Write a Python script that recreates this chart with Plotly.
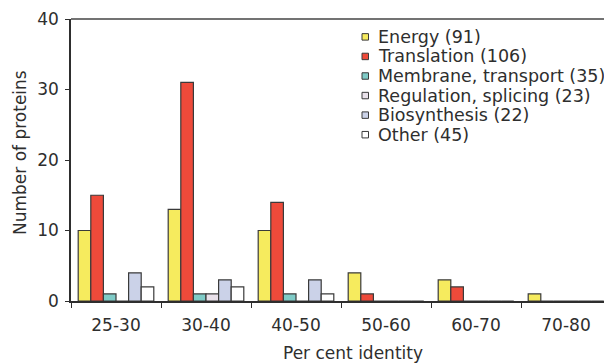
import plotly.graph_objects as go

categories = ["25-30", "30-40", "40-50", "50-60", "60-70", "70-80"]
series_names = ["Energy (91)", "Translation (106)", "Membrane, transport (35)",
                "Regulation, splicing (23)", "Biosynthesis (22)", "Other (45)"]
energy = [10, 13, 10, 4, 3, 1]
translation = [15, 31, 14, 1, 2, 0]
membrane = [1, 1, 1, 0, 0, 0]
regulation = [0, 1, 0, 0, 0, 0]
biosynthesis = [4, 3, 3, 0, 0, 0]
other = [2, 2, 1, 0, 0, 0]
y_ticks = [0, 10, 20, 30, 40]
x_title = "Per cent identity"
y_title = "Number of proteins"

series_values = [energy, translation, membrane, regulation, biosynthesis, other]
colors = ["#F6EB5E", "#EE4A3A", "#7FCBC7", "#E9E1EA", "#CBD2E8", "#FFFFFF"]
edge = "#3A3A3A"
font_family = "DejaVu Sans, Verdana, sans-serif"
txt = "#2E2E2E"

# page has an 8px body margin, so the figure is 604x355
W, H = 604, 355
ML, MR, MT, MB = 63, 1, 9, 62
plot_w = W - ML - MR
plot_h = H - MT - MB

fig = go.Figure()
for name, vals, col in zip(series_names, series_values, colors):
    fig.add_trace(go.Bar(
        x=categories, y=vals, name=name, showlegend=False,
        marker=dict(color=col, line=dict(color=edge, width=1.2)),
    ))

# legend drawn as a compact key (tight row spacing like the original)
key_left_px = 291      # px from plot left edge to key square
key_top_px = 18        # px from plot top to first row centre
row_px = 19.7
sq_px = 6.5
annotations = []
shapes = []
for i, (name, col) in enumerate(zip(series_names, colors)):
    yc = 1 - (key_top_px + i * row_px) / plot_h
    x0 = key_left_px / plot_w
    shapes.append(dict(
        type="rect", xref="paper", yref="paper",
        x0=x0, x1=x0 + sq_px / plot_w,
        y0=yc - sq_px / 2 / plot_h, y1=yc + sq_px / 2 / plot_h,
        fillcolor=col, line=dict(color=edge, width=1)))
    annotations.append(dict(
        text=name, xref="paper", yref="paper",
        x=(key_left_px + 14) / plot_w, y=yc, xanchor="left", yanchor="middle",
        showarrow=False, font=dict(size=17.5, color=txt)))

# axis titles (slightly off-centre in the original)
annotations.append(dict(
    text=x_title, xref="paper", yref="paper",
    x=(281.5 / plot_w), y=1 - (336 / plot_h),
    xanchor="center", yanchor="middle", showarrow=False,
    font=dict(size=17, color=txt)))
annotations.append(dict(
    text=y_title, xref="paper", yref="paper", textangle=-90,
    x=-51.5 / plot_w, y=1 - (134.5 / plot_h),
    xanchor="center", yanchor="middle", showarrow=False,
    font=dict(size=17, color=txt)))

shapes += [
    dict(type="line", xref="paper", yref="paper", x0=0, x1=1, y0=1, y1=1,
         line=dict(color="#444444", width=1.5)),
    dict(type="line", xref="paper", yref="paper", x0=1, x1=1, y0=0, y1=1,
         line=dict(color="#AAAAAA", width=1)),
]

fig.update_layout(
    width=W, height=H,
    margin=dict(l=ML, r=MR, t=MT, b=MB),
    paper_bgcolor="white", plot_bgcolor="white",
    barmode="group", bargap=0.16, bargroupgap=0,
    font=dict(family=font_family, size=16, color=txt),
    showlegend=False,
    xaxis=dict(
        type="category", showline=True, linecolor=txt, linewidth=1.5,
        ticks="outside", ticklen=5, tickcolor=txt,
        tickson="boundaries", showgrid=False, zeroline=False,
        tickfont=dict(size=17), ticklabelstandoff=8,
    ),
    yaxis=dict(
        range=[0, 40], tickvals=y_ticks, showline=True, linecolor=txt,
        linewidth=1.5, ticks="outside", ticklen=4, tickcolor=txt,
        showgrid=False, zeroline=False, tickfont=dict(size=17),
        ticklabelstandoff=3, ticklabeloverflow="allow",
    ),
    shapes=shapes,
    annotations=annotations,
)

fig.write_html("out.html")
